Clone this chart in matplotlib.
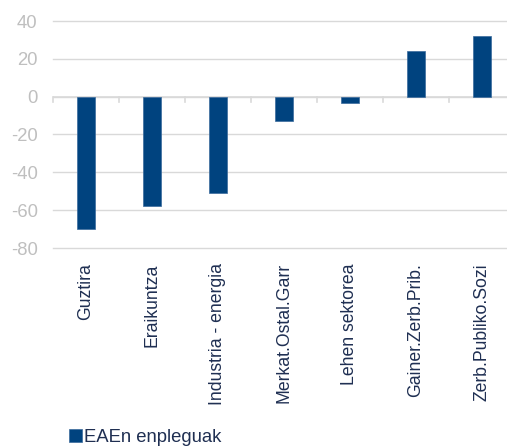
import numpy as np
import matplotlib.pyplot as plt

# EAEn enpleguak: aldaketa sektoreka
sectors = ['Guztira', 'Eraikuntza', 'Industria - energia', 'Merkat.Ostal.Garr',
           'Lehen sektorea', 'Gainer.Zerb.Prib.', 'Zerb.Publiko.Sozi']
values = [-70, -58, -51, -13, -3.5, 24, 32]
yticks = [-80, -60, -40, -20, 0, 20, 40]

bar_color = '#00437F'
text_color = '#1F2F52'
grid_color = '#D9D9D9'

plt.rcParams['font.family'] = ['Liberation Sans', 'DejaVu Sans']

fig = plt.figure(figsize=(5.07, 4.48), dpi=100)
ax = fig.add_axes([53 / 507, 200 / 448, 462 / 507, 227 / 448])

x = np.arange(len(sectors))
ax.bar(x, values, width=0.28, color=bar_color, edgecolor='#3A6A9C',
       linewidth=0.5, label='EAEn enpleguak', zorder=3)

ax.set_xlim(-0.5, len(sectors) - 0.5)
ax.set_ylim(-80, 40)
ax.set_yticks(yticks)
ax.set_yticklabels([str(v) for v in yticks])
ax.tick_params(axis='y', length=0, pad=11, labelsize=13.3, labelcolor='#BFBFBF')
for v in yticks:
    ax.axhline(v, color=grid_color, linewidth=1.0, zorder=0, clip_on=False)
for s in ax.spines.values():
    s.set_visible(False)

# eje horizontal en cero con marcas entre categorías
ax.axhline(0, color=grid_color, linewidth=1.2, zorder=2)
for b in np.arange(-0.5, len(sectors), 1.0):
    ax.plot([b, b], [0, -2.8], color=grid_color, linewidth=1.2, zorder=2,
            clip_on=False)

ax.set_xticks(x)
ax.set_xticklabels(sectors, rotation=90, fontsize=12.7, color=text_color,
                   ha='right', va='center', rotation_mode='anchor')
ax.tick_params(axis='x', length=0, pad=11)

fig.legend(loc='lower left', bbox_to_anchor=(52 / 507, -15 / 448),
           frameon=False, fontsize=13.3, handlelength=0.7,
           handleheight=0.7, handletextpad=0.15, labelcolor=text_color)

fig.savefig('out.png', dpi=100)
